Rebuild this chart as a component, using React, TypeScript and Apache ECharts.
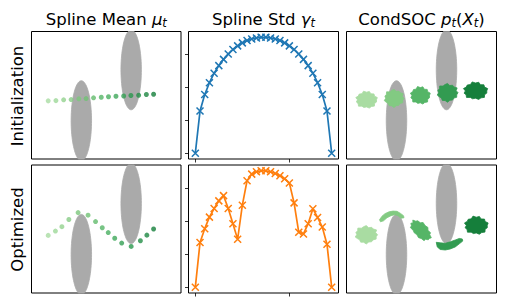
import React, { useEffect, useRef } from "react";
import * as echarts from "echarts";

// ---------- data ----------
const titles = ["Spline Mean", "Spline Std", "CondSOC"];
const rowLabels = ["Initialization", "Optimized"];

const timeSteps = [0, 1, 2, 3, 4, 5, 6, 7, 8, 9, 10, 11, 12, 13, 14, 15, 16, 17, 18, 19, 20, 21, 22, 23, 24, 25, 26, 27, 28, 29];
const stdInit = [0, 1.28, 1.78, 2.14, 2.43, 2.66, 2.85, 3.01, 3.15, 3.26, 3.35, 3.42, 3.47, 3.5, 3.52, 3.52, 3.5, 3.47, 3.42, 3.35, 3.26, 3.15, 3.01, 2.85, 2.66, 2.43, 2.14, 1.78, 1.28, 0];
const stdOpt = [0, 1.35, 1.77, 2.12, 2.38, 2.61, 2.77, 2.38, 1.92, 1.45, 2.48, 3.22, 3.42, 3.49, 3.52, 3.52, 3.49, 3.44, 3.37, 3.28, 3.15, 2.55, 1.66, 1.61, 1.92, 2.37, 2.11, 1.82, 1.3, 0];
const stdTicksX = [0, 20];
const stdTicksY = [0, 1, 2, 3];

const meanInit = [[-2.33, -0.22], [-2.02, -0.21], [-1.71, -0.18], [-1.41, -0.17], [-1.1, -0.14], [-0.81, -0.13], [-0.51, -0.1], [-0.2, -0.08], [0.09, -0.06], [0.39, -0.04], [0.7, -0.03], [0.99, -0.01], [1.3, 0.0], [1.61, 0.03], [1.9, 0.04]];
const meanOpt = [[-2.33, -0.25], [-2.04, -0.08], [-1.78, 0.09], [-1.5, 0.37], [-1.13, 0.64], [-0.73, 0.54], [-0.43, 0.29], [-0.16, 0.05], [0.08, -0.14], [0.34, -0.36], [0.62, -0.55], [1.0, -0.68], [1.37, -0.46], [1.63, -0.24], [1.9, 0.0]];

const obstacles = [[-1, -1, 0.41, 1.57], [1, 1, 0.41, 1.57]]; // cx, cy, rx, ry

// clouds: cx, cy, rx, ry, rotation(deg)
const cloudsInit = [[-2.2, -0.18, 0.4, 0.31, 0], [-1.1, -0.12, 0.37, 0.32, 0], [-0.05, -0.01, 0.37, 0.32, 0], [1.04, 0.1, 0.39, 0.33, 0], [2.16, 0.17, 0.45, 0.32, 0]];
const cloudsOptRound = [[-2.21, -0.22, 0.42, 0.32, 0], [-0.03, -0.05, 0.47, 0.26, -43], [2.19, 0.14, 0.44, 0.33, 0]];
const crescentLeft = [[-1.68, 0.36], [-1.58, 0.5], [-1.46, 0.6], [-1.3, 0.67], [-1.14, 0.7], [-0.98, 0.69], [-0.84, 0.61], [-0.72, 0.52], [-0.7, 0.44], [-0.82, 0.42], [-0.94, 0.52], [-1.08, 0.56], [-1.22, 0.52], [-1.38, 0.44], [-1.52, 0.32], [-1.64, 0.28]];
const crescentRight = [[0.59, -0.52], [0.75, -0.54], [0.95, -0.56], [1.15, -0.5], [1.35, -0.43], [1.51, -0.37], [1.63, -0.39], [1.65, -0.47], [1.51, -0.58], [1.35, -0.7], [1.15, -0.78], [0.95, -0.82], [0.75, -0.8], [0.63, -0.7]];
const jagA = [1.0, 1.12, 0.93, 1.06, 0.88, 1.1, 0.97, 1.14, 0.9, 1.03, 0.95, 1.11, 0.9, 1.05, 0.96, 1.13, 0.92, 1.0, 0.89, 1.08, 0.98, 1.12, 0.93, 1.04];
const jagB = [1.08, 0.92, 1.14, 0.96, 1.03, 0.88, 1.1, 1.0, 0.91, 1.13, 0.95, 1.02, 0.9, 1.09, 0.97, 0.89, 1.06, 0.96, 1.14, 0.93, 1.01, 0.91, 1.09, 0.98];

const cloudColors = ["#a9dca2", "#82ca82", "#55b567", "#329b51", "#157f3b"];
const dotColors = ["#a9dca2", "#9ed898", "#93d28f", "#87cc86", "#7cc77c", "#70c274", "#63bb6d", "#55b567", "#48af60", "#3ea75a", "#349f54", "#2b974d", "#248f47", "#1e8742", "#157f3b"];

// ---------- helpers ----------
const XR = [-3, 3];
const YR = [-2.5, 2.5];
function clamp(v: number, lo: number, hi: number) { return Math.max(lo, Math.min(hi, v)); }
function ellipseOutline(cx: number, cy: number, rx: number, ry: number, rotDeg: number, jag: number[] | null) {
  const n = jag ? jag.length : 90;
  const r = (rotDeg * Math.PI) / 180;
  const pts: number[][] = [];
  for (let k = 0; k < n; k++) {
    const a = (2 * Math.PI * k) / n;
    const f = jag ? jag[k] : 1;
    const lx = rx * f * Math.cos(a);
    const ly = ry * f * Math.sin(a);
    const x = cx + lx * Math.cos(r) - ly * Math.sin(r);
    const y = cy + lx * Math.sin(r) + ly * Math.cos(r);
    pts.push([clamp(x, XR[0], XR[1]), clamp(y, YR[0], YR[1])]);
  }
  return pts;
}

const obstacleShapes = obstacles.map((o) => ellipseOutline(o[0], o[1], o[2], o[3], 0, null));
const initCloudShapes = cloudsInit.map((c, i) => ellipseOutline(c[0], c[1], c[2], c[3], c[4], i % 2 ? jagB : jagA));
const optCloudShapes = [
  ellipseOutline(cloudsOptRound[0][0], cloudsOptRound[0][1], cloudsOptRound[0][2], cloudsOptRound[0][3], cloudsOptRound[0][4], jagB),
  crescentLeft,
  ellipseOutline(cloudsOptRound[1][0], cloudsOptRound[1][1], cloudsOptRound[1][2], cloudsOptRound[1][3], cloudsOptRound[1][4], jagA),
  crescentRight,
  ellipseOutline(cloudsOptRound[2][0], cloudsOptRound[2][1], cloudsOptRound[2][2], cloudsOptRound[2][3], cloudsOptRound[2][4], jagA),
];

function polySeries(gi: number, shapes: number[][][], colors: string[], z: number) {
  return {
    type: "custom",
    xAxisIndex: gi,
    yAxisIndex: gi,
    z,
    silent: true,
    data: shapes.map((s) => [s[0][0], s[0][1]]),
    encode: { x: 0, y: 1 },
    renderItem: (params: any, api: any) => {
      const shape = shapes[params.dataIndex];
      const col = colors[params.dataIndex % colors.length];
      return {
        type: "polygon",
        shape: { points: shape.map((p) => api.coord(p)) },
        style: { fill: col, stroke: col, lineWidth: 0.8 },
      };
    },
  };
}

const FONT = "DejaVu Sans";
const FS = 16.5;

export default function App() {
  const ref = useRef<HTMLDivElement>(null);
  useEffect(() => {
    if (!ref.current) return;
    const chart = echarts.init(ref.current, null, { renderer: "svg" });
    const colLeft = [31.5, 188.5, 346.5];
    const colW = [149.5, 150, 150];
    const rowTop = [31.5, 165];
    const rowH = [127.5, 128];
    const grids: any[] = [];
    const xAxes: any[] = [];
    const yAxes: any[] = [];
    for (let r = 0; r < 2; r++) {
      for (let c = 0; c < 3; c++) {
        const gi = r * 3 + c;
        grids.push({ left: colLeft[c], top: rowTop[r], width: colW[c], height: rowH[r], show: true, borderColor: "#000", borderWidth: 1, backgroundColor: "#fff" });
        if (c === 1) {
          xAxes.push({
            type: "value", gridIndex: gi, min: -1.45, max: 30.45, position: "bottom",
            axisLine: { show: false, onZero: false },
            axisTick: { show: true, inside: false, customValues: stdTicksX, length: 3.5, lineStyle: { color: "#000", width: 0.8 } },
            axisLabel: { show: false, customValues: stdTicksX },
            splitLine: { show: false },
          });
          yAxes.push({
            type: "value", gridIndex: gi, min: -0.176, max: 3.696, position: "left",
            axisLine: { show: false, onZero: false },
            axisTick: { show: true, inside: false, customValues: stdTicksY, length: 3.5, lineStyle: { color: "#000", width: 0.8 } },
            axisLabel: { show: false, customValues: stdTicksY },
            splitLine: { show: false },
          });
        } else {
          xAxes.push({ type: "value", gridIndex: gi, min: XR[0], max: XR[1], show: false });
          yAxes.push({ type: "value", gridIndex: gi, min: YR[0], max: YR[1], show: false });
        }
      }
    }
    const series: any[] = [];
    [0, 2, 3, 5].forEach((gi) => series.push(polySeries(gi, obstacleShapes, ["#aaaaaa"], 1)));
    [[0, meanInit], [3, meanOpt]].forEach(([gi, pts]: any) => {
      series.push({
        type: "scatter", xAxisIndex: gi, yAxisIndex: gi, z: 3, symbolSize: 5,
        data: pts.map((p: number[], i: number) => ({ value: p, itemStyle: { color: dotColors[i] } })),
      });
    });
    [[1, stdInit, "#1f77b4"], [4, stdOpt, "#ff7f0e"]].forEach(([gi, vals, col]: any) => {
      series.push({
        type: "line", xAxisIndex: gi, yAxisIndex: gi, z: 3,
        data: vals.map((v: number, i: number) => [timeSteps[i], v]),
        symbol: "path://M0 0L10 10M10 0L0 10", symbolSize: 7, showAllSymbol: true,
        lineStyle: { color: col, width: 1.7 },
        itemStyle: { color: col, borderColor: col, borderWidth: 1.5 },
      });
    });
    series.push(polySeries(2, initCloudShapes, cloudColors, 3));
    series.push(polySeries(5, optCloudShapes, cloudColors, 3));

    const rich = {
      it: { fontFamily: FONT, fontSize: FS, fontStyle: "italic", lineHeight: 20, color: "#000" },
      n: { fontFamily: FONT, fontSize: FS, lineHeight: 20, color: "#000" },
      s: { fontFamily: FONT, fontSize: 11.5, fontStyle: "italic", lineHeight: 10, verticalAlign: "bottom", color: "#000" },
    };
    const titleTexts = [
      `{n|${titles[0]} }{it|μ}{s|t}`,
      `{n|${titles[1]} }{it|γ}{s|t}`,
      `{n|${titles[2]} }{it|p}{s|t}{n|(}{it|X}{s|t}{n|)}`,
    ];
    const centers = [106.3, 263.5, 421.5];
    const graphic: any[] = titleTexts.map((t, i) => ({
      type: "text", x: centers[i], y: 19, z: 10,
      style: { text: t, rich, fill: "#000", font: `${FS}px ${FONT}`, textAlign: "center", textVerticalAlign: "middle", align: "center", verticalAlign: "middle" },
    }));
    [[17.5, 96], [17.5, 229.5]].forEach((p, i) => {
      graphic.push({
        type: "text", x: p[0], y: p[1], rotation: Math.PI / 2, z: 10,
        style: { text: rowLabels[i], fill: "#000", font: `${FS}px ${FONT}`, textAlign: "center", textVerticalAlign: "middle", align: "center", verticalAlign: "middle" },
      });
    });

    chart.setOption({
      animation: false,
      backgroundColor: "#fff",
      grid: grids,
      xAxis: xAxes,
      yAxis: yAxes,
      series,
      graphic,
    });
    return () => chart.dispose();
  }, []);
  return <div ref={ref} style={{ position: "fixed", left: 0, top: 0, width: 505, height: 308 }} />;
}
